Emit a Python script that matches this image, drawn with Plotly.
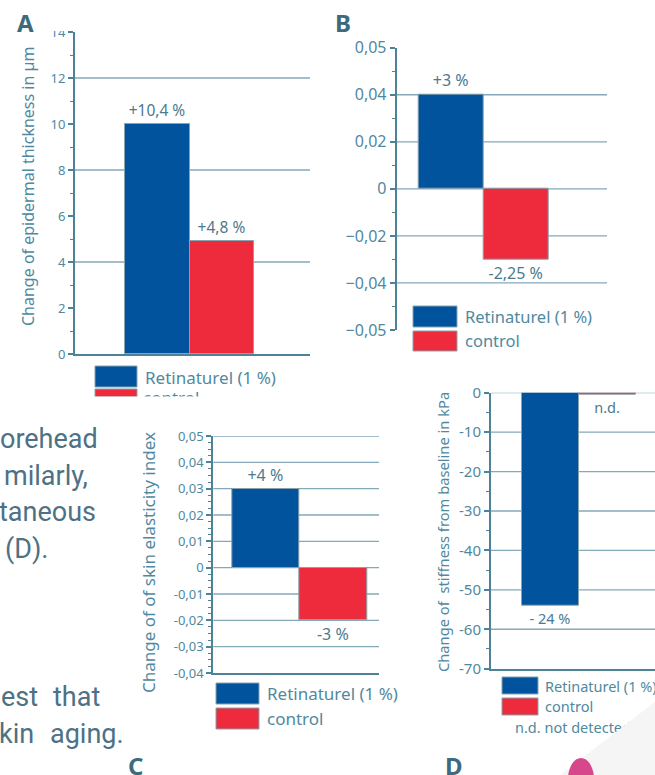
import plotly.graph_objects as go

W, H = 655, 775
def fx(x): return x / W
def fy(y): return 1 - y / H

# ---------------- data ----------------
series = ["Retinaturel (1 %)", "control"]

a_values = [10.0, 4.9]
a_labels = ["+10,4 %", "+4,8 %"]
a_tickvals = [0, 2, 4, 6, 8, 10, 12, 14]
a_ticktext = ["0", "2", "4", "6", "8", "10", "12", "14"]
a_grid = [4, 8, 12]

# panel B: the printed axis has evenly spaced ticks; its outer ticks are labelled ±0,05
b_values = [0.04, -0.03]
b_labels = ["+3 %", "-2,25 %"]
b_tickvals = [-0.06, -0.04, -0.02, 0, 0.02, 0.04, 0.06]
b_ticktext = ["−0,05", "−0,04", "−0,02", "0", "0,02", "0,04", "0,05"]
b_minor = [-0.05, -0.03, -0.01, 0.01, 0.03, 0.05]
b_grid = [-0.04, -0.02, 0, 0.02, 0.04]

c_values = [0.03, -0.02]
c_labels = ["+4 %", "-3 %"]
c_tickvals = [-0.04, -0.03, -0.02, -0.01, 0, 0.01, 0.02, 0.03, 0.04, 0.05]
c_ticktext = ["-0,04", "-0,03", "-0,02", "-0,01", "0", "0,01", "0,02", "0,03", "0,04", "0,05"]
c_grid = [-0.03, -0.02, -0.01, 0, 0.01, 0.02, 0.03, 0.04, 0.05]

d_values = [-54, -0.6]
d_labels = ["- 24 %", "n.d."]
d_tickvals = [0, -10, -20, -30, -40, -50, -60, -70]
d_ticktext = ["0", "-10", "-20", "-30", "-40", "-50", "-60", "-70"]
d_grid = [0, -10, -20, -30, -40, -50, -60]

# ---------------- style ----------------
BLUE = "#02539d"
RED = "#ee2b3d"
OUTLINE = "#86a3ae"
AXIS = "#4d8297"
GRID = "#84a9b8"
TICK = "#4f89a0"
LABEL = "#4b7a8e"
LETTER = "#3e6a7e"
BODY = "#4d7185"
FONT = "Noto Sans"

panels = [
    dict(values=a_values, labels=a_labels, tickvals=a_tickvals, ticktext=a_ticktext,
         minor=dict(tickmode="linear", tick0=0, dtick=1), grid=a_grid,
         box=(75, 310, 32, 354), yr=[0, 14], xr=[-1.275, 2.368], xline=True,
         tickfont=13, textfont=15.5),
    dict(values=b_values, labels=b_labels, tickvals=b_tickvals, ticktext=b_ticktext,
         minor=dict(tickmode="array", tickvals=b_minor), grid=b_grid,
         box=(396.7, 607, 47.7, 330), yr=[-0.06, 0.06], xr=[-0.830, 2.386], xline=False,
         tickfont=16, textfont=16),
    dict(values=c_values, labels=c_labels, tickvals=c_tickvals, ticktext=c_ticktext,
         minor=dict(tickmode="linear", tick0=0, dtick=0.0025), grid=c_grid,
         box=(213.3, 379, 436, 673), yr=[-0.04, 0.05], xr=[-0.782, 1.678], xline=True,
         tickfont=13, textfont=16),
    dict(values=d_values, labels=d_labels, tickvals=d_tickvals, ticktext=d_ticktext,
         minor=dict(tickmode="linear", tick0=0, dtick=5), grid=d_grid,
         box=(491, 655, 392.7, 668.7), yr=[-70, 0], xr=[-1.051, 1.834], xline=True,
         tickfont=15, textfont=14.5),
]

fig = go.Figure()
shapes = []
layout_axes = {}

for i, p in enumerate(panels, start=1):
    xa = "x" if i == 1 else f"x{i}"
    ya = "y" if i == 1 else f"y{i}"
    xk = "xaxis" if i == 1 else f"xaxis{i}"
    yk = "yaxis" if i == 1 else f"yaxis{i}"
    x0, x1, y0, y1 = p["box"]
    fig.add_trace(go.Bar(
        x=series, y=p["values"], xaxis=xa, yaxis=ya,
        marker=dict(color=[BLUE, RED], line=dict(color=OUTLINE, width=1)),
        text=p["labels"], textposition="outside", cliponaxis=False,
        constraintext="none",
        textfont=dict(family=FONT, size=p["textfont"], color=LABEL),
        showlegend=False, hoverinfo="skip"))
    layout_axes[xk] = dict(domain=[fx(x0), fx(x1)], range=p["xr"], anchor=ya,
                           type="category", showticklabels=False, ticks="",
                           showgrid=False, zeroline=False, automargin=False,
                           showline=p["xline"], linecolor=AXIS, linewidth=2,
                           fixedrange=True)
    minor = dict(ticks="outside", ticklen=3, tickwidth=1.3, tickcolor=AXIS, showgrid=False)
    minor.update(p["minor"])
    layout_axes[yk] = dict(domain=[fy(y1), fy(y0)], range=p["yr"], anchor=xa,
                           tickmode="array", tickvals=p["tickvals"], ticktext=p["ticktext"],
                           ticks="outside", ticklen=5, tickwidth=1.5, tickcolor=AXIS,
                           showline=True, linecolor=AXIS, linewidth=2,
                           showgrid=False, zeroline=False, automargin=False,
                           tickfont=dict(family=FONT, size=p["tickfont"], color=TICK),
                           minor=minor, fixedrange=True)
    for g in p["grid"]:
        shapes.append(dict(type="line", xref=f"{xa} domain", yref=ya, x0=0, x1=1,
                           y0=g, y1=g, line=dict(color=GRID, width=1.3), layer="below"))

# helper axis covering the whole canvas (pixel coordinates) for clipped legend texts
layout_axes["xaxis5"] = dict(domain=[0, 1], range=[0, W], anchor="y5", visible=False,
                             fixedrange=True, automargin=False)
layout_axes["yaxis5"] = dict(domain=[0, 1], range=[H, 0], anchor="x5", visible=False,
                             fixedrange=True, automargin=False)
fig.add_trace(go.Scatter(x=[143, 515], y=[400, 729], mode="text",
                         text=["control", "n.d. not detected"], textposition="middle right",
                         textfont=dict(family=FONT, size=[17, 14.5], color=TICK),
                         xaxis="x5", yaxis="y5", showlegend=False, hoverinfo="skip",
                         cliponaxis=False))

annotations = []
def ann(text, x, y, size, color, xanchor="center", yanchor="middle", angle=0, weight=None, family=FONT):
    f = dict(family=family, size=size, color=color)
    if weight:
        f["weight"] = weight
    annotations.append(dict(text=text, x=fx(x), y=fy(y), xref="paper", yref="paper",
                            xanchor=xanchor, yanchor=yanchor, showarrow=False,
                            textangle=angle, font=f))

def rect(x0, x1, y0, y1, fill, line=None, layer="above"):
    shapes.append(dict(type="rect", xref="paper", yref="paper",
                       x0=fx(x0), x1=fx(x1), y0=fy(y1), y1=fy(y0),
                       fillcolor=fill, layer=layer,
                       line=dict(color=line or fill, width=1 if line else 0)))

# panel letters
ann("A", 25, 23, 24, LETTER, weight="bold")
ann("B", 343, 23, 24, LETTER, weight="bold")
ann("C", 135.5, 765, 24, LETTER, weight="bold")
ann("D", 454, 765, 24, LETTER, weight="bold")

# axis titles
ann("Change of epidermal thickness in µm", 28, 187, 16, TICK, angle=-90)
ann("Change of of skin elasticity index", 148, 563, 17, TICK, angle=-90)
ann("Change of  stiffness from baseline in kPa", 443, 532, 14.7, TICK, angle=-90)

# legends (swatches + labels)
rect(95, 137, 366, 387, BLUE, OUTLINE)
rect(95, 137, 389, 397, RED, OUTLINE)
ann(series[0], 143, 377, 17, TICK, xanchor="left")

rect(413, 457, 306, 327, BLUE, OUTLINE)
rect(413, 457, 331, 351, RED, OUTLINE)
ann(series[0], 463, 316, 16.5, TICK, xanchor="left")
ann(series[1], 463, 341, 16.5, TICK, xanchor="left")

rect(216, 259, 683, 704, BLUE, OUTLINE)
rect(216, 259, 708, 729, RED, OUTLINE)
ann(series[0], 265, 693, 17, TICK, xanchor="left")
ann(series[1], 265, 718, 17, TICK, xanchor="left")

rect(502, 538, 677, 694, BLUE, OUTLINE)
rect(502, 538, 698, 715, RED, OUTLINE)
ann(series[0], 543, 686, 14.5, TICK, xanchor="left")
ann(series[1], 543, 706, 14.5, TICK, xanchor="left")

# clipping masks
rect(90, 300, 396.5, 422, "white")      # legend A clipped
rect(35, 72, 0, 31, "white")            # top tick label of A clipped
shapes.append(dict(type="path", xref="paper", yref="paper",
                   path=f"M {fx(560)},{fy(775)} L {fx(655)},{fy(702)} L {fx(655)},{fy(775)} Z",
                   fillcolor="#f5f5f5", line=dict(width=0), layer="above"))
shapes.append(dict(type="circle", xref="paper", yref="paper",
                   x0=fx(568), x1=fx(594), y0=fy(800), y1=fy(758),
                   fillcolor="#d6478b", line=dict(width=0), layer="above"))

# body text (page copy, clipped at the left edge)
BF = "Roboto"
BS = 27
ann("orehead", -2, 439, BS, BODY, xanchor="left", family=BF)
ann("milarly,", 2, 475.5, BS, BODY, xanchor="left", family=BF)
ann("taneous", -3, 512, BS, BODY, xanchor="left", family=BF)
ann("(D).", 3, 548.5, BS, BODY, xanchor="left", family=BF)
ann("est", -1, 697, BS, BODY, xanchor="left", family=BF)
ann("that", 51, 697, BS, BODY, xanchor="left", family=BF)
ann("kin", -3, 733.5, BS, BODY, xanchor="left", family=BF)
ann("aging.", 48, 733.5, BS, BODY, xanchor="left", family=BF)

fig.update_layout(
    width=W, height=H, autosize=False,
    margin=dict(l=0, r=0, t=0, b=0, pad=0),
    paper_bgcolor="white", plot_bgcolor="rgba(0,0,0,0)",
    barmode="relative", bargap=0,
    shapes=shapes, annotations=annotations,
    font=dict(family=FONT, color=TICK),
    **layout_axes,
)

fig.write_html("out.html", config={"displayModeBar": False},
               post_script="document.body.style.margin='0px';document.body.style.overflow='hidden';")
